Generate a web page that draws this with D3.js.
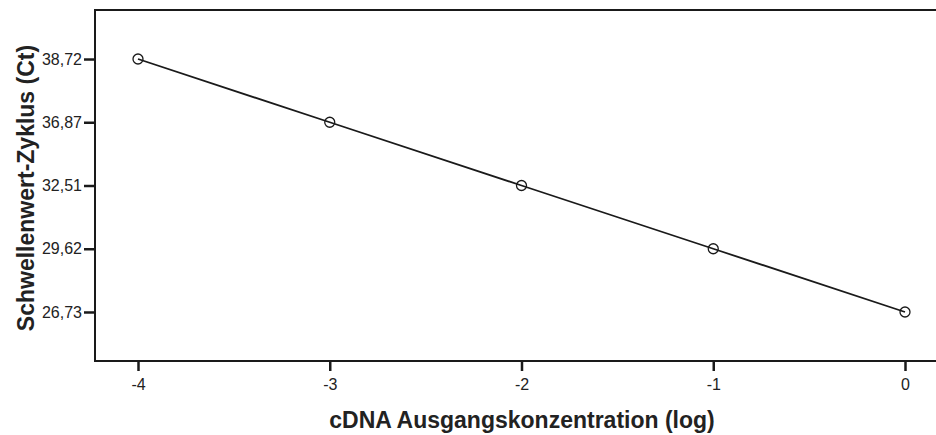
<!DOCTYPE html>
<html>
<head>
<meta charset="utf-8">
<script src="https://cdn.jsdelivr.net/npm/d3@7"></script>
<style>
  body { margin: 0; background: #fff; }
  svg { display: block; font-family: "Liberation Sans", Arial, sans-serif; }
</style>
</head>
<body>
<svg></svg>
<script>
// cDNA Ausgangskonzentration (log) and the Ct label at each step
let concentrations = [-4, -3, -2, -1, 0]
let ctValues = ['38,72', '36,87', '32,51', '29,62', '26,73']
// y axis categories, bottom to top
let ctCategories = ['26,73', '29,62', '32,51', '36,87', '38,72']

let width = 936
let height = 435
let plotLeft = 95
let plotTop = 10
let plotBottom = 361

let svg = d3.select('svg')
  .attr('width', width)
  .attr('height', height)

let xScale = d3.scaleLinear()
  .domain([-4, 0])
  .range([138, 905])

let yScale = d3.scalePoint()
  .domain(ctCategories)
  .range([plotBottom, plotTop])
  .padding(0.775)

// frame: top and left and bottom, open on the right
svg.append('path')
  .attr('d', `M${width},${plotTop}H${plotLeft}V${plotBottom}H${width}`)
  .attr('fill', 'none')
  .attr('stroke', '#1a1a1a')
  .attr('stroke-width', 2)

let xAxis = d3.axisBottom(xScale)
  .tickValues(concentrations)
  .tickFormat((d) => String(d))
  .tickSize(10)
  .tickPadding(8)

let gx = svg.append('g')
  .attr('transform', 'translate(0,' + plotBottom + ')')
  .call(xAxis)
gx.select('.domain').remove()
gx.selectAll('line').attr('stroke', '#1a1a1a').attr('stroke-width', 2.5)
gx.selectAll('text')
  .attr('fill', '#222')
  .style('font-size', '16px')

let yAxis = d3.axisLeft(yScale)
  .tickSize(11)
  .tickPadding(2)

let gy = svg.append('g')
  .attr('transform', 'translate(' + plotLeft + ',0)')
  .call(yAxis)
gy.select('.domain').remove()
gy.selectAll('line').attr('stroke', '#1a1a1a').attr('stroke-width', 2.5)
gy.selectAll('text')
  .attr('fill', '#222')
  .style('font-size', '16px')

let line = d3.line()
  .x((d, i) => xScale(concentrations[i]))
  .y((d) => yScale(d))

svg.append('path')
  .datum(ctValues)
  .attr('d', line)
  .attr('fill', 'none')
  .attr('stroke', '#1a1a1a')
  .attr('stroke-width', 1.8)

svg.selectAll('circle')
  .data(ctValues)
  .enter()
  .append('circle')
  .attr('cx', (d, i) => xScale(concentrations[i]))
  .attr('cy', (d) => yScale(d))
  .attr('r', 5)
  .attr('fill', 'none')
  .attr('stroke', '#1a1a1a')
  .attr('stroke-width', 1.3)

svg.append('text')
  .attr('x', 522)
  .attr('y', 428)
  .attr('text-anchor', 'middle')
  .style('font-size', '23px')
  .style('font-weight', 'bold')
  .attr('fill', '#222')
  .text('cDNA Ausgangskonzentration (log)')

svg.append('text')
  .attr('transform', 'translate(34,188) rotate(-90)')
  .attr('text-anchor', 'middle')
  .style('font-size', '23px')
  .style('font-weight', 'bold')
  .attr('fill', '#222')
  .text('Schwellenwert-Zyklus (Ct)')
</script>
</body>
</html>
